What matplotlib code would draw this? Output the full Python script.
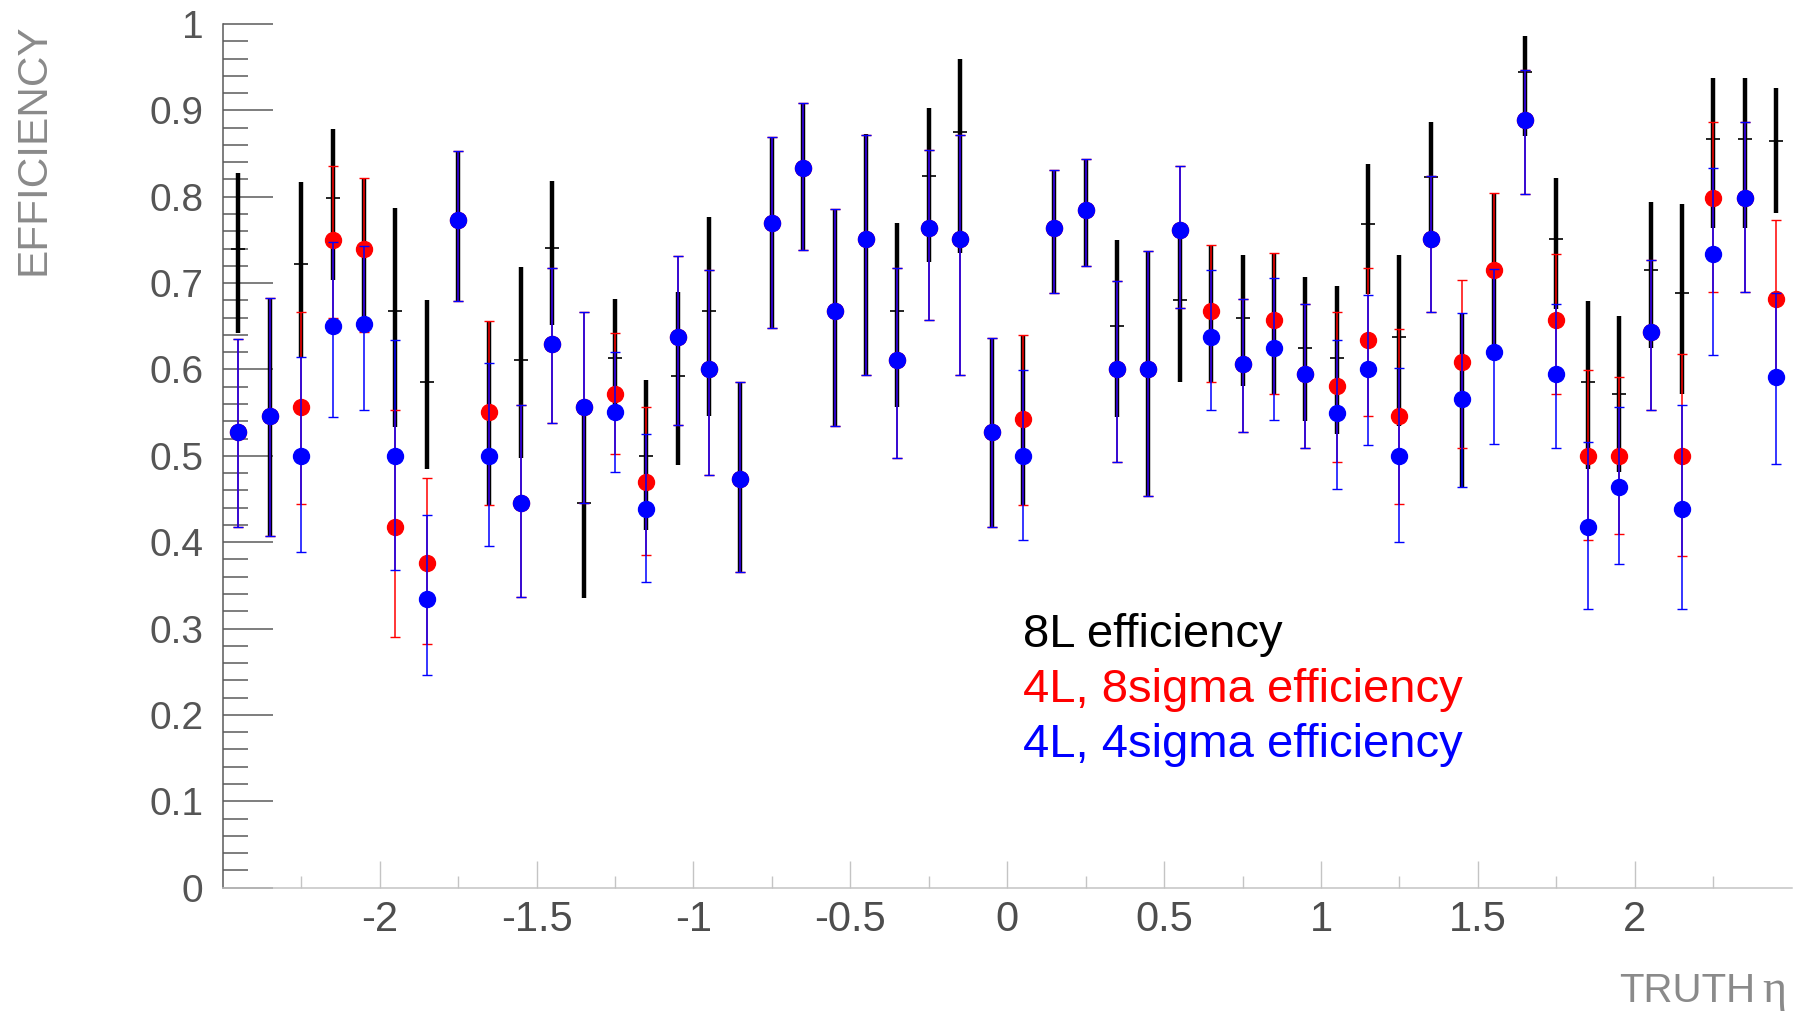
# Eficiencia vs eta de truth: 8L, 4L 8sigma y 4L 4sigma (estilo ROOT)

import matplotlib
matplotlib.use("Agg")
import matplotlib.pyplot as plt
from matplotlib.ticker import FixedLocator, FuncFormatter
import numpy as np

plt.rcParams['font.family'] = ['Liberation Sans', 'DejaVu Sans']

# ----------------------------- datos -----------------------------
eta = [-2.45, -2.35, -2.25, -2.15, -2.05, -1.95, -1.85, -1.75, -1.65, -1.55,
       -1.45, -1.35, -1.25, -1.15, -1.05, -0.95, -0.85, -0.75, -0.65, -0.55,
       -0.45, -0.35, -0.25, -0.15, -0.05, 0.05, 0.15, 0.25, 0.35, 0.45,
       0.55, 0.65, 0.75, 0.85, 0.95, 1.05, 1.15, 1.25, 1.35, 1.45,
       1.55, 1.65, 1.75, 1.85, 1.95, 2.05, 2.15, 2.25, 2.35, 2.45]

# 8L
eff_8l = [0.739, 0.546, 0.722, 0.799, 0.740, 0.668, 0.585, 0.773, 0.551, 0.611,
          0.741, 0.445, 0.613, 0.500, 0.592, 0.668, 0.473, 0.770, 0.833, 0.668,
          0.751, 0.668, 0.824, 0.875, 0.527, 0.543, 0.764, 0.785, 0.650, 0.601,
          0.680, 0.668, 0.659, 0.657, 0.625, 0.613, 0.768, 0.638, 0.823, 0.566,
          0.715, 0.944, 0.751, 0.585, 0.572, 0.715, 0.689, 0.867, 0.867, 0.865]
lo_8l = [0.642, 0.407, 0.614, 0.703, 0.643, 0.533, 0.485, 0.679, 0.443, 0.497,
         0.652, 0.335, 0.545, 0.414, 0.489, 0.546, 0.366, 0.648, 0.738, 0.534,
         0.593, 0.556, 0.724, 0.735, 0.417, 0.443, 0.688, 0.720, 0.545, 0.454,
         0.586, 0.585, 0.581, 0.572, 0.540, 0.525, 0.687, 0.535, 0.750, 0.464,
         0.620, 0.870, 0.670, 0.485, 0.481, 0.625, 0.571, 0.764, 0.764, 0.781]
hi_8l = [0.828, 0.683, 0.817, 0.878, 0.822, 0.787, 0.680, 0.853, 0.656, 0.719,
         0.818, 0.556, 0.681, 0.588, 0.690, 0.777, 0.585, 0.869, 0.908, 0.786,
         0.873, 0.769, 0.903, 0.959, 0.636, 0.640, 0.831, 0.844, 0.750, 0.737,
         0.761, 0.744, 0.732, 0.735, 0.707, 0.697, 0.838, 0.732, 0.887, 0.665,
         0.804, 0.986, 0.822, 0.679, 0.662, 0.794, 0.792, 0.938, 0.938, 0.926]

# 4L, 8sigma
eff_4l8 = [0.527, 0.546, 0.557, 0.750, 0.740, 0.417, 0.376, 0.773, 0.551, 0.445,
           0.630, 0.556, 0.572, 0.470, 0.638, 0.601, 0.473, 0.770, 0.833, 0.668,
           0.751, 0.611, 0.764, 0.751, 0.527, 0.543, 0.764, 0.785, 0.601, 0.601,
           0.761, 0.668, 0.606, 0.657, 0.595, 0.581, 0.634, 0.546, 0.751, 0.609,
           0.715, 0.889, 0.657, 0.500, 0.500, 0.643, 0.500, 0.799, 0.799, 0.681]
lo_4l8 = [0.418, 0.407, 0.444, 0.660, 0.643, 0.290, 0.282, 0.679, 0.443, 0.336,
          0.538, 0.445, 0.502, 0.385, 0.536, 0.478, 0.366, 0.648, 0.738, 0.534,
          0.593, 0.498, 0.657, 0.593, 0.417, 0.443, 0.688, 0.720, 0.493, 0.454,
          0.671, 0.585, 0.527, 0.572, 0.509, 0.493, 0.546, 0.444, 0.666, 0.509,
          0.620, 0.803, 0.572, 0.403, 0.410, 0.553, 0.384, 0.690, 0.690, 0.585]
hi_4l8 = [0.635, 0.683, 0.666, 0.835, 0.822, 0.553, 0.474, 0.853, 0.656, 0.559,
          0.717, 0.666, 0.642, 0.557, 0.731, 0.715, 0.585, 0.869, 0.908, 0.786,
          0.872, 0.717, 0.854, 0.872, 0.636, 0.640, 0.831, 0.844, 0.702, 0.737,
          0.836, 0.744, 0.681, 0.735, 0.676, 0.666, 0.717, 0.647, 0.824, 0.704,
          0.804, 0.947, 0.734, 0.599, 0.591, 0.727, 0.618, 0.886, 0.886, 0.773]

# 4L, 4sigma
eff_4l4 = [0.527, 0.546, 0.500, 0.650, 0.653, 0.500, 0.334, 0.773, 0.500, 0.445,
           0.630, 0.556, 0.551, 0.438, 0.638, 0.601, 0.473, 0.770, 0.833, 0.668,
           0.751, 0.611, 0.764, 0.751, 0.527, 0.500, 0.764, 0.785, 0.601, 0.601,
           0.761, 0.638, 0.606, 0.625, 0.595, 0.550, 0.601, 0.500, 0.751, 0.566,
           0.620, 0.889, 0.595, 0.417, 0.464, 0.643, 0.438, 0.734, 0.799, 0.591]
lo_4l4 = [0.418, 0.407, 0.389, 0.545, 0.553, 0.368, 0.246, 0.679, 0.395, 0.336,
          0.538, 0.445, 0.481, 0.354, 0.536, 0.478, 0.366, 0.648, 0.738, 0.534,
          0.593, 0.498, 0.657, 0.593, 0.417, 0.403, 0.688, 0.720, 0.493, 0.454,
          0.671, 0.553, 0.527, 0.541, 0.509, 0.462, 0.513, 0.400, 0.666, 0.464,
          0.514, 0.803, 0.509, 0.323, 0.375, 0.553, 0.323, 0.617, 0.690, 0.490]
hi_4l4 = [0.635, 0.683, 0.614, 0.748, 0.743, 0.634, 0.431, 0.853, 0.607, 0.559,
          0.717, 0.666, 0.620, 0.525, 0.731, 0.715, 0.585, 0.869, 0.908, 0.786,
          0.872, 0.717, 0.854, 0.872, 0.636, 0.599, 0.831, 0.844, 0.702, 0.737,
          0.836, 0.715, 0.681, 0.706, 0.676, 0.634, 0.686, 0.602, 0.824, 0.665,
          0.716, 0.947, 0.676, 0.516, 0.557, 0.727, 0.559, 0.833, 0.886, 0.688]

leyenda = ['8L efficiency', '4L, 8sigma efficiency', '4L, 4sigma efficiency']

# ----------------------------- figura -----------------------------
fig = plt.figure(figsize=(18.02, 10.11), dpi=100)
ax = fig.add_axes([0.1236, 0.1220, 0.8707, 0.8543])


def yerr(c, lo, hi):
    c, lo, hi = np.array(c), np.array(lo), np.array(hi)
    return [c - lo, hi - c]


# 8L: barra gruesa negra, marcador de raya
ax.errorbar(eta, eff_8l, yerr=yerr(eff_8l, lo_8l, hi_8l), fmt='none',
            ecolor='black', elinewidth=3.2, capsize=0, zorder=2)
ax.plot(eta, eff_8l, ls='none', marker='_', ms=9.5, mew=1.2, color='black', zorder=2.1)

# 4L 8sigma
ax.errorbar(eta, eff_4l8, yerr=yerr(eff_4l8, lo_4l8, hi_4l8), fmt='o', color='#ff0000',
            ms=11.5, mec='#ff0000', elinewidth=1.1, capsize=3.5, capthick=1.0, zorder=3)

# 4L 4sigma
ax.errorbar(eta, eff_4l4, yerr=yerr(eff_4l4, lo_4l4, hi_4l4), fmt='o', color='#0000ff',
            ms=11.5, mec='#0000ff', elinewidth=1.1, capsize=3.5, capthick=1.0, zorder=4)

# ejes
ax.set_xlim(-2.5, 2.5)
ax.set_ylim(0, 1)
for s in ['top', 'right']:
    ax.spines[s].set_visible(False)
ax.spines['left'].set_color('#5a5a5a')
ax.spines['left'].set_linewidth(1.1)
ax.spines['bottom'].set_color('#c4c4c4')
ax.spines['bottom'].set_linewidth(1.1)

ax.yaxis.set_major_locator(FixedLocator([0, 0.1, 0.2, 0.3, 0.4, 0.5, 0.6, 0.7, 0.8, 0.9, 1.0]))
ax.yaxis.set_minor_locator(FixedLocator([v / 100 for v in range(0, 101, 2)]))
ax.xaxis.set_major_locator(FixedLocator([-2, -1.5, -1, -0.5, 0, 0.5, 1, 1.5, 2]))
ax.xaxis.set_minor_locator(FixedLocator([-2.25, -1.75, -1.25, -0.75, -0.25,
                                         0.25, 0.75, 1.25, 1.75, 2.25]))
fmt = FuncFormatter(lambda v, p: '%g' % round(v, 2))
ax.yaxis.set_major_formatter(fmt)
ax.xaxis.set_major_formatter(fmt)

ax.tick_params(axis='y', which='major', direction='in', length=36, width=1.1,
               color='#5a5a5a', labelsize=28, labelcolor='#555555', pad=14)
ax.tick_params(axis='y', which='minor', direction='in', length=18, width=1.1, color='#5a5a5a')
ax.tick_params(axis='x', which='major', direction='in', length=19.5, width=1.0,
               color='#c4c4c4', labelsize=30, labelcolor='#4d4d4d', pad=9)
ax.tick_params(axis='x', which='minor', direction='in', length=8.5, width=1.0, color='#c4c4c4')

# titulos de ejes
fig.text(0.0186, 0.977, 'EFFICIENCY', rotation=90, ha='center', va='top',
         fontsize=30.5, color='#8a8a8a')
fig.text(0.9739, 0.0089, 'TRUTH', ha='right', va='baseline',
         fontsize=29, color='#8a8a8a')
fig.text(0.9778, 0.0089, 'η', ha='left', va='baseline',
         fontsize=33, color='#8a8a8a', family=['Liberation Serif', 'DejaVu Serif'])

# leyenda como texto
colores = ['black', '#ff0000', '#0000ff']
ys = [0.3603, 0.3059, 0.2515]
for t, c, y in zip(leyenda, colores, ys):
    fig.text(0.5677, y, t, color=c, fontsize=34, ha='left', va='baseline')

plt.savefig('out.png', dpi=100)
